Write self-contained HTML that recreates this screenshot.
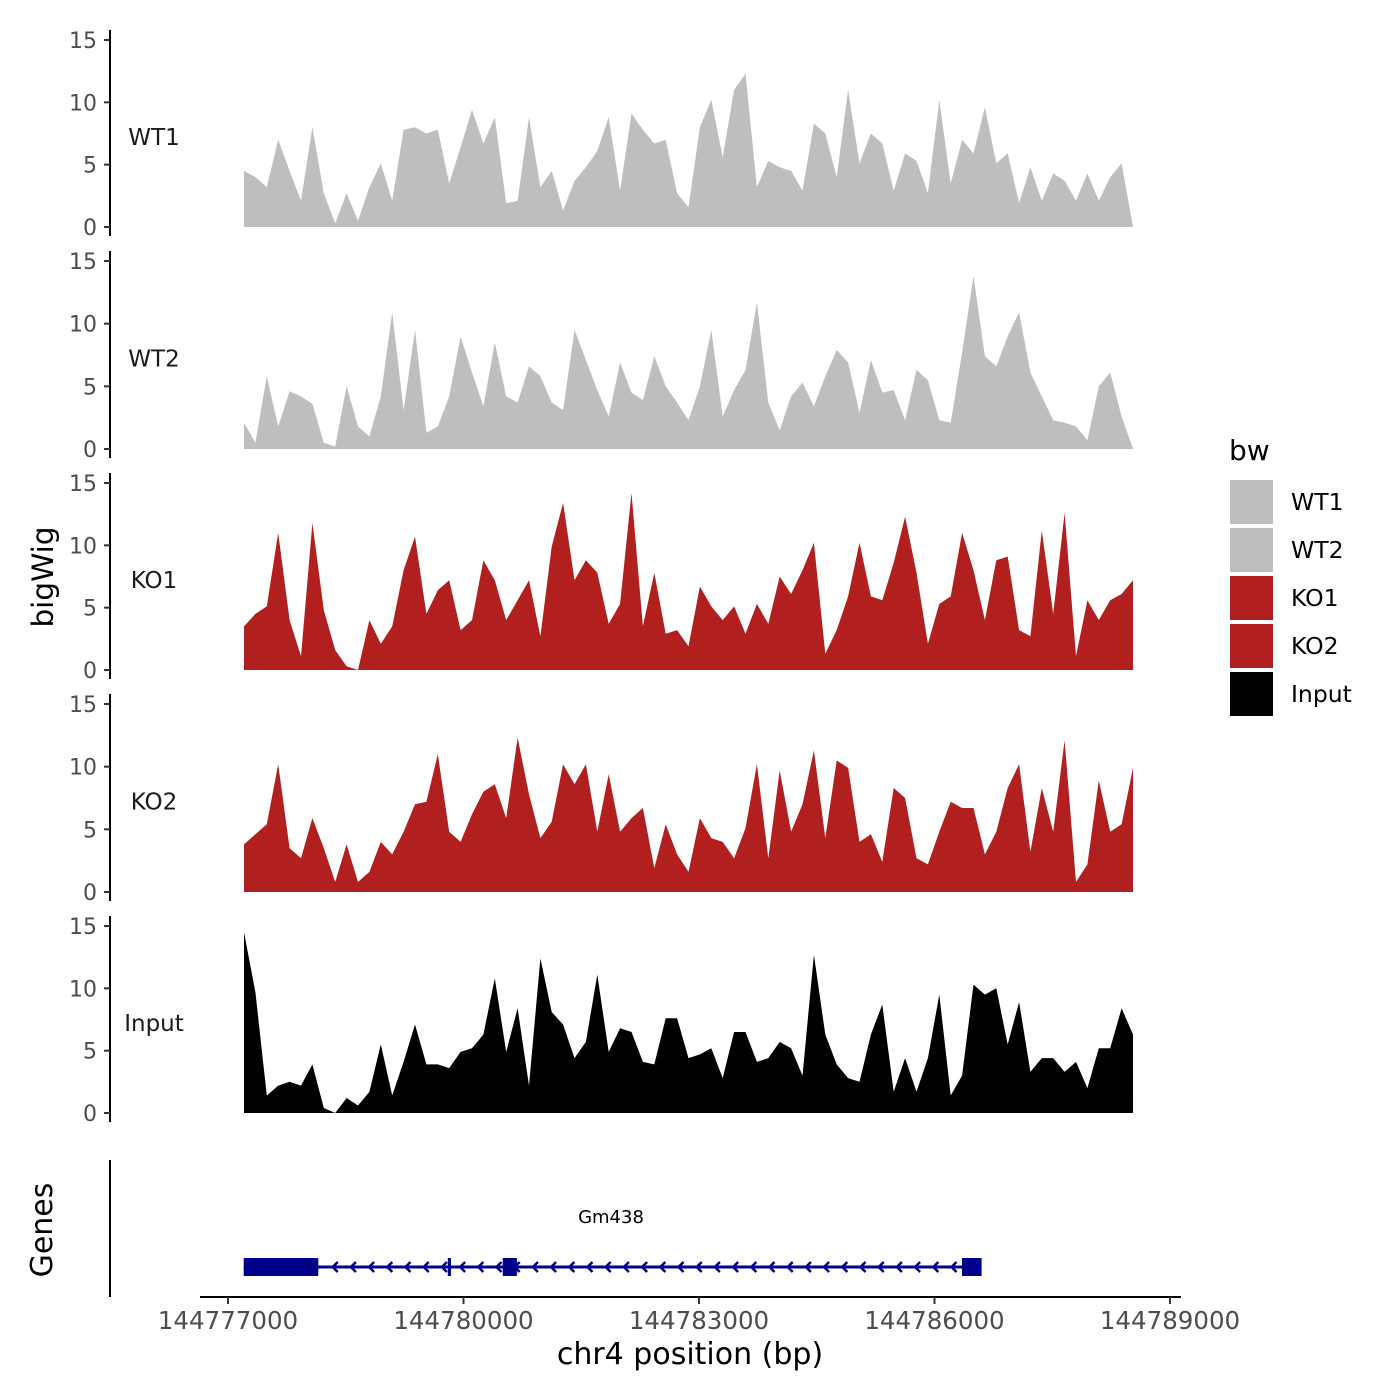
<!DOCTYPE html>
<html><head><meta charset="utf-8"><style>
body{margin:0;background:#fff}
svg{display:block;font-family:"DejaVu Sans","Liberation Sans",sans-serif}
</style></head><body>
<svg id="chart" width="1400" height="1400" viewBox="0 0 1400 1400" xmlns="http://www.w3.org/2000/svg">
<g id="panels"></g>
<g id="genes"></g>
<g id="xaxis"></g>
<text x="53" y="577" transform="rotate(-90 53 577)" text-anchor="middle" font-size="29.5" fill="#000">bigWig</text>
<text x="52" y="1230" transform="rotate(-90 52 1230)" text-anchor="middle" font-size="30" fill="#000">Genes</text>
<text x="690" y="1364" text-anchor="middle" font-size="30" fill="#000">chr4 position (bp)</text>
<g id="legend">
<text x="1229" y="460" font-size="28" fill="#000">bw</text>
</g>
</svg>
<script>
const samples = ["WT1","WT2","KO1","KO2","Input"];
const sampleColors = ["#bebebe","#bebebe","#b21f1f","#b21f1f","#000000"];
const regionStart = 144777204;
const regionEnd = 144788529;
const yTicks = [0,5,10,15];
const xTicks = [144777000,144780000,144783000,144786000,144789000];
const xTickLabels = ["144777000","144780000","144783000","144786000","144789000"];

const wt1 = [4.5,4.0,3.2,7.0,4.5,2.1,8.0,2.7,0.3,2.7,0.5,3.2,5.1,2.1,7.8,8.0,7.5,7.8,3.5,6.4,9.4,6.7,8.8,1.9,2.1,8.8,3.2,4.5,1.3,3.7,4.8,6.1,8.8,2.9,9.1,7.8,6.7,7.0,2.7,1.6,8.0,10.2,5.6,11.0,12.3,3.2,5.3,4.8,4.5,2.9,8.3,7.5,4.0,11.0,5.1,7.5,6.7,2.9,5.9,5.3,2.7,10.2,3.5,7.0,5.9,9.6,5.1,5.9,1.9,4.8,2.1,4.3,3.7,2.1,4.3,2.1,4.0,5.1,0];
const wt2 = [2.1,0.5,5.8,1.8,4.6,4.2,3.6,0.5,0.2,5.0,1.8,1.0,4.2,10.9,3.1,9.5,1.3,1.8,4.2,9.0,6.1,3.4,8.5,4.2,3.7,6.6,5.8,3.7,3.1,9.5,7.1,4.7,2.6,6.9,4.5,3.9,7.4,5.0,3.7,2.3,5.0,9.5,2.6,4.7,6.3,11.7,3.7,1.5,4.2,5.3,3.4,5.8,7.9,6.9,2.9,7.1,4.5,4.7,2.3,6.3,5.5,2.3,2.1,7.7,13.8,7.4,6.6,9.0,10.9,6.1,4.2,2.3,2.1,1.8,0.7,5.0,6.1,2.6,0];
const ko1 = [3.5,4.5,5.1,11.0,4.0,1.1,11.8,4.8,1.6,0.3,0,4.0,2.1,3.5,8.0,10.7,4.5,6.4,7.2,3.2,4.0,8.8,7.2,4.0,5.6,7.2,2.7,9.9,13.4,7.2,8.8,7.8,3.7,5.3,14.2,3.5,7.8,2.9,3.2,1.9,6.7,5.1,4.0,5.1,2.9,5.3,3.7,7.5,6.1,8.0,10.2,1.3,3.2,5.9,10.2,5.9,5.6,8.6,12.3,7.8,2.1,5.3,5.9,11.0,8.0,4.0,8.8,9.1,3.2,2.7,11.2,4.5,12.6,1.1,5.6,4.0,5.6,6.1,7.2];
const ko2 = [3.8,4.6,5.4,10.2,3.5,2.7,5.9,3.5,0.8,3.8,0.8,1.6,4.0,3.0,4.8,7.0,7.2,11.0,4.8,4.0,6.2,8.0,8.6,5.9,12.3,7.8,4.3,5.6,10.2,8.6,10.2,4.8,9.4,4.8,5.9,6.7,1.9,5.4,3.0,1.6,5.9,4.3,4.0,2.7,5.1,10.2,2.7,9.7,4.8,7.0,11.3,4.3,10.5,9.9,4.0,4.6,2.4,8.3,7.5,2.7,2.2,4.8,7.2,6.7,6.7,3.0,4.8,8.3,10.2,3.2,8.3,4.8,12.1,0.8,2.2,8.9,4.8,5.4,9.9];
const input = [14.5,9.7,1.4,2.2,2.5,2.2,3.9,0.4,0,1.2,0.6,1.7,5.5,1.4,4.1,7.1,3.9,3.9,3.6,4.9,5.2,6.3,10.8,4.9,8.4,2.2,12.4,8.1,7.1,4.4,5.7,11.1,4.9,6.8,6.5,4.1,3.9,7.6,7.6,4.4,4.7,5.2,2.8,6.5,6.5,4.1,4.4,5.7,5.2,3.0,12.7,6.3,3.9,2.8,2.5,6.3,8.7,1.7,4.4,1.7,4.4,9.5,1.4,3.0,10.3,9.5,10.0,5.5,8.9,3.3,4.4,4.4,3.3,4.1,2.0,5.2,5.2,8.4,6.3];
const seriesValues = [wt1, wt2, ko1, ko2, input];

const geneName = "Gm438";
const geneStart = 144777200;
const geneEnd = 144786600;
const exonStarts = [144777200,144779800,144780500,144786350];
const exonEnds   = [144778150,144779840,144780680,144786600];

const NS = "http://www.w3.org/2000/svg";
function mk(tag, attrs, parent){const e=document.createElementNS(NS,tag);for(const k in attrs)e.setAttribute(k,attrs[k]);parent.appendChild(e);return e;}
const xScale = bp => 228 + (bp - 144777000) * (942/12000);
const panelTop = [40,261,483,704,926];
const panelZero = [227,449,670,892,1113];
function yScale(i, v){return panelZero[i] - v * (panelZero[i]-panelTop[i]) / 15;}

const panels = document.getElementById('panels');
samples.forEach((name, i) => {
  const g = mk('g', {}, panels);
  
  
  const vals = seriesValues[i];
  const n = vals.length;
  let d = 'M' + xScale(regionStart) + ' ' + yScale(i,0);
  vals.forEach((v, j) => {
    const bp = regionStart + (regionEnd - regionStart) * j / (n - 1);
    d += ' L' + xScale(bp).toFixed(1) + ' ' + yScale(i, v).toFixed(1);
  });
  d += ' L' + xScale(regionEnd) + ' ' + yScale(i,0) + ' Z';
  const area = mk('path', {d: d, fill: sampleColors[i]}, g);
  
  
  const ax = mk('line', {x1:110, x2:110, y1:yScale(i,15)-10, y2:yScale(i,0)+9, stroke:'#000', 'stroke-width':2}, g);
  
  
  yTicks.forEach(t => {
    const y = yScale(i, t);
    const tk = mk('line', {x1:104, x2:110, y1:y, y2:y, stroke:'#333', 'stroke-width':2}, g);
    
    
    const tl = mk('text', {x:97, y:y+8, 'text-anchor':'end', 'font-size':22, fill:'#4d4d4d'}, g);
    tl.textContent = t;
    
    
  });
  const lb = mk('text', {x:154, y:yScale(i,7.3)+9, 'text-anchor':'middle', 'font-size':23, fill:'#1a1a1a'}, g);
  lb.textContent = name;
  
  
});

// genes track
const genes = document.getElementById('genes');
const gax = mk('line', {x1:110, x2:110, y1:1160, y2:1297, stroke:'#000', 'stroke-width':2}, genes);


const gy = 1267;
const gl = mk('line', {x1:xScale(geneStart), x2:xScale(geneEnd), y1:gy, y2:gy, stroke:'#00008b', 'stroke-width':3}, genes);


for (let x = xScale(geneStart) + 90; x < xScale(geneEnd) - 14; x += 18.2) {
  const c = mk('polyline', {points:(x+4)+','+(gy-5)+' '+(x-1)+','+gy+' '+(x+4)+','+(gy+5), fill:'none', stroke:'#00008b', 'stroke-width':2.5}, genes);
  
  
}
exonStarts.forEach((s, k) => {
  const x1 = xScale(s), x2 = xScale(exonEnds[k]);
  const r = mk('rect', {x:x1, y:gy-9, width:Math.max(3, x2-x1), height:18, fill:'#00008b'}, genes);
  
  
});
const gn = mk('text', {x:611, y:1223, 'text-anchor':'middle', 'font-size':18, fill:'#000'}, genes);
gn.textContent = geneName;



// x axis
const xa = document.getElementById('xaxis');
const xl = mk('line', {x1:200, x2:1181, y1:1297, y2:1297, stroke:'#000', 'stroke-width':2}, xa);


xTicks.forEach((t, k) => {
  const x = xScale(t);
  const tk = mk('line', {x1:x, x2:x, y1:1297, y2:1304, stroke:'#333', 'stroke-width':2}, xa);
  
  
  const tl = mk('text', {x:x, y:1329, 'text-anchor':'middle', 'font-size':24.5, fill:'#4d4d4d'}, xa);
  tl.textContent = xTickLabels[k];
  
  
});

// legend
const lg = document.getElementById('legend');
samples.forEach((name, i) => {
  const y = 480 + i * 48;
  const r = mk('rect', {x:1230, y:y, width:43, height:44, fill:sampleColors[i]}, lg);
  
  
  const t = mk('text', {x:1291, y:y+30, 'font-size':23.5, fill:'#000'}, lg);
  t.textContent = name;
  
  
});
</script>
</body></html>
